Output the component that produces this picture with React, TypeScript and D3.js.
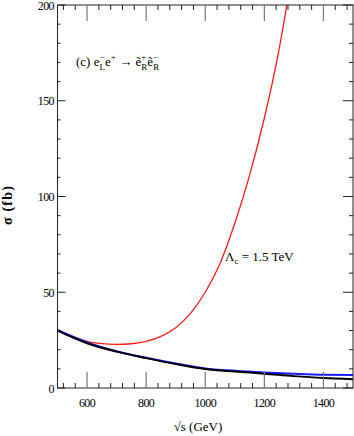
import React from "react";
import * as d3 from "d3";

const redX = [500, 550, 600, 650, 700, 750, 800, 850, 900, 950, 1000, 1050, 1100, 1150, 1200, 1250, 1275, 1300];
const redY = [30, 27, 24.4, 23.2, 22.8, 23.1, 24.4, 27, 31.5, 39, 50, 65, 86, 111, 141, 177, 199, 222];
const blueX = [500, 600, 700, 800, 900, 1000, 1100, 1200, 1300, 1400, 1500];
const blueY = [30.3, 23.8, 19.2, 15.8, 12.8, 10.2, 9.0, 8.1, 7.4, 6.9, 6.8];
const blackX = [500, 600, 700, 800, 900, 1000, 1100, 1200, 1300, 1400, 1500];
const blackY = [30, 23.4, 19, 15.6, 12.5, 9.9, 8.6, 7.5, 6.2, 5.2, 4.6];
const xTicks = [600, 800, 1000, 1200, 1400];
const yTicks = [0, 50, 100, 150, 200];

const W = 354, H = 436;
const L = 57.5, R = 353, T = 5, B = 388;

export default function App() {
  const x = d3.scaleLinear().domain([500, 1500]).range([L, R]);
  const y = d3.scaleLinear().domain([0, 200]).range([B, T]);
  const line = d3.line<[number, number]>().x(d => x(d[0])).y(d => y(d[1])).curve(d3.curveMonotoneX);
  const pts = (xs: number[], ys: number[]) => xs.map((v, i) => [v, ys[i]] as [number, number]);
  const xMinor = d3.range(520, 1500, 40).filter(v => !xTicks.includes(v));
  const yMinor = d3.range(10, 200, 10).filter(v => !yTicks.includes(v));
  const serif = "'Liberation Serif', 'DejaVu Serif', serif";
  const stroke = "#222";
  return (
    <div style={{ position: "absolute", left: 0, top: 0 }}>
      <svg width={W} height={H} style={{ display: "block", background: "#fff" }}>
        <defs>
          <clipPath id="plot"><rect x={L} y={T} width={R - L} height={B - T} /></clipPath>
        </defs>
        <g clipPath="url(#plot)" fill="none">
          <path d={line(pts(redX, redY)) || ""} stroke="#ff1a1a" strokeWidth={1.3} />
          <path d={line(pts(blueX, blueY)) || ""} stroke="#1a1aff" strokeWidth={2} />
          <path d={line(pts(blackX, blackY)) || ""} stroke="#000" strokeWidth={2} />
        </g>
        <rect x={L} y={T} width={R - L} height={B - T} fill="none" stroke={stroke} strokeWidth={1} />
        {xTicks.map(v => (
          <g key={"xt" + v} stroke="#777" strokeWidth={1.2}>
            <line x1={x(v)} x2={x(v)} y1={B} y2={B - 16} />
            <line x1={x(v)} x2={x(v)} y1={T} y2={T + 16} />
          </g>
        ))}
        {xMinor.map(v => (
          <g key={"xm" + v} stroke={stroke} strokeWidth={1}>
            <line x1={x(v)} x2={x(v)} y1={B} y2={B - 5} />
            <line x1={x(v)} x2={x(v)} y1={T} y2={T + 5} />
          </g>
        ))}
        {yTicks.map(v => (
          <g key={"yt" + v} stroke={stroke} strokeWidth={1}>
            <line x1={L} x2={L + 8} y1={y(v)} y2={y(v)} />
            <line x1={R} x2={R - 10} y1={y(v)} y2={y(v)} />
          </g>
        ))}
        {yMinor.map(v => (
          <g key={"ym" + v} stroke={stroke} strokeWidth={1}>
            <line x1={L} x2={L + 3} y1={y(v)} y2={y(v)} />
            <line x1={R} x2={R - 4} y1={y(v)} y2={y(v)} />
          </g>
        ))}
        {xTicks.map(v => (
          <text key={"xl" + v} x={x(v)} y={407} textAnchor="middle" fontFamily={serif} fontSize={12} letterSpacing={-0.6} fill="#000">{v}</text>
        ))}
        {yTicks.map(v => (
          <text key={"yl" + v} x={54} y={y(v) + 4.5} textAnchor="end" fontFamily={serif} fontSize={12} letterSpacing={-0.6} fill="#000">{v}</text>
        ))}
        <text x={198} y={431} textAnchor="middle" fontFamily={serif} fontSize={13} fill="#000">√s (GeV)</text>
        <text transform="translate(12,205) rotate(-90)" textAnchor="middle" fontFamily={serif} fontSize={14} fontWeight="bold" letterSpacing={1.2} fill="#000">σ (fb)</text>
        <text x={76} y={66} fontFamily={serif} fontSize={13} fill="#000">
          (c) e
          <tspan fontSize={9} dy={-6}>−</tspan>
          <tspan fontSize={9} dx={-5} dy={10}>L</tspan>
          <tspan dy={-4}>e</tspan>
          <tspan fontSize={9} dy={-6}>+</tspan>
          <tspan dy={6}> → ẽ</tspan>
          <tspan fontSize={9} dy={-6}>+</tspan>
          <tspan fontSize={9} dx={-5} dy={10}>R</tspan>
          <tspan dy={-4}>ẽ</tspan>
          <tspan fontSize={9} dy={-6}>−</tspan>
          <tspan fontSize={9} dx={-5} dy={10}>R</tspan>
        </text>
        <text x={225} y={261} fontFamily={serif} fontSize={13} fill="#000">
          Λ<tspan fontSize={9} dy={3}>c</tspan><tspan dy={-3}> = 1.5 TeV</tspan>
        </text>
      </svg>
    </div>
  );
}
